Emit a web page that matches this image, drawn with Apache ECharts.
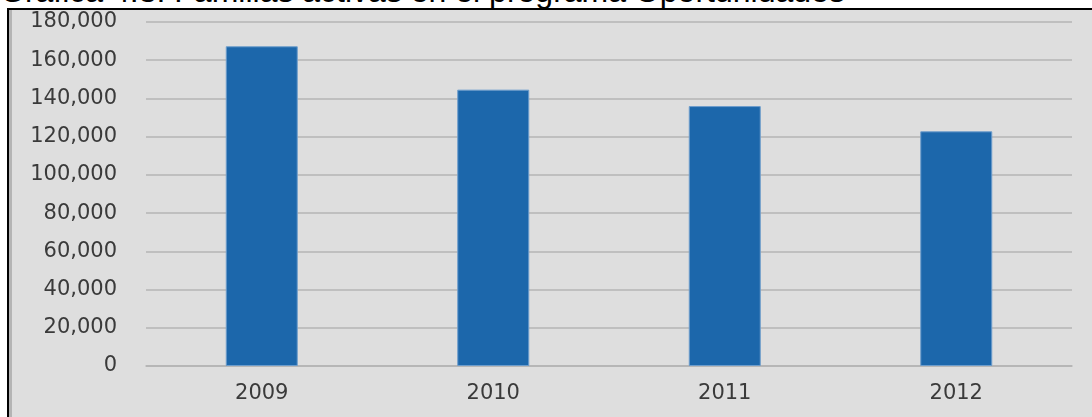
<!DOCTYPE html>
<html>
<head>
<meta charset="utf-8">
<script src="https://cdn.jsdelivr.net/npm/echarts@6/dist/echarts.min.js"></script>
<style>
  html, body { margin: 0; padding: 0; background: #fff; overflow: hidden; }
  #wrap { position: relative; width: 1092px; height: 417px; overflow: hidden; }
  #titulo {
    position: absolute; left: 0; top: -25px; white-space: nowrap;
    font: 32px "Liberation Sans", Arial, sans-serif; line-height: 32px; color: #000;
  }
  #caja {
    position: absolute; left: 7px; top: 8px; width: 1100px; height: 420px;
    background: #dedede; border: 2px solid #000; box-sizing: border-box;
  }
  #caja:before {
    content: ''; position: absolute; left: 0; top: 0; width: 3px; height: 100%; background: #b4b4b4;
  }
  #chart { position: absolute; left: 0; top: 0; width: 1092px; height: 417px; }
</style>
</head>
<body>
<div id="wrap">
  <div id="titulo"></div>
  <div id="caja"></div>
  <div id="chart"></div>
</div>
<script>
var years = ['2009', '2010', '2011', '2012'];
var familias = [167300, 144600, 136000, 122800];
var titulo = 'Gráfica 4.3. Familias activas en el programa Oportunidades';

document.getElementById('titulo').textContent = titulo;

var chart = echarts.init(document.getElementById('chart'));

// numeros con coma de miles
function fmt(v) {
    return String(v).replace(/\B(?=(\d{3})+(?!\d))/g, ',');
}

var option = {
    animation: false,
    backgroundColor: 'transparent',
    grid: {
        left: 146,
        right: 20,
        top: 22,
        bottom: 51,
        containLabel: false
    },
    xAxis: {
        type: 'category',
        data: years,
        axisLine: { lineStyle: { color: '#b4b4b4', width: 1.5 } },
        axisTick: { show: false },
        axisLabel: {
            color: '#3a3a3a',
            fontFamily: 'DejaVu Sans',
            fontSize: 21,
            margin: 17
        }
    },
    yAxis: {
        type: 'value',
        min: 0,
        max: 180000,
        interval: 20000,
        axisLine: { show: false },
        axisTick: { show: false },
        axisLabel: {
            color: '#3a3a3a',
            fontFamily: 'DejaVu Sans',
            fontSize: 21,
            margin: 29,
            formatter: fmt
        },
        splitLine: { lineStyle: { color: '#b4b4b4', width: 1.5 } }
    },
    series: [{
        type: 'bar',
        data: familias,
        barWidth: 72,
        itemStyle: {
            color: '#1c67ab',
            borderColor: '#6d9dcc',
            borderWidth: 1
        }
    }]
};

chart.setOption(option);
</script>
</body>
</html>
